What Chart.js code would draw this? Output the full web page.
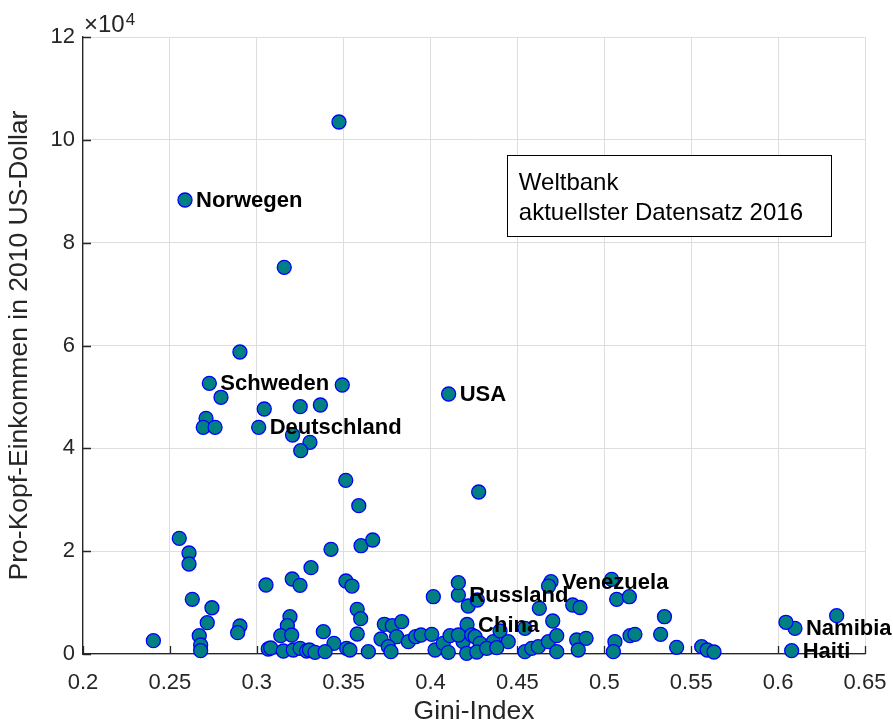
<!DOCTYPE html>
<html>
<head>
<meta charset="utf-8">
<script src="https://cdn.jsdelivr.net/npm/chart.js@4.4.1/dist/chart.umd.min.js"></script>
<style>
  html, body { margin: 0; padding: 0; background: #ffffff; }
  canvas { display: block; }
</style>
</head>
<body>
<canvas id="chart" width="893" height="728"></canvas>
<script>
// Gini index and GDP per capita (constant 2010 US$), World Bank, latest year 2016.
// The first nine entries are the countries that carry a name label.
const giniIndex = [
  0.2587, 0.2727, 0.3011, 0.4104, 0.4160, 0.4210, 0.4693, 0.6097, 0.6078,
  0.3473, 0.3158, 0.2903, 0.3492, 0.2794, 0.3043, 0.3250, 0.3366, 0.2708,
  0.2692, 0.2760, 0.3206, 0.3306, 0.3253, 0.3512, 0.3587, 0.4277,
  0.2554, 0.2610, 0.2610, 0.3427, 0.3600, 0.3667, 0.3312, 0.3053, 0.3204,
  0.3249, 0.3513, 0.3548, 0.4016, 0.4160, 0.4217, 0.4269, 0.4679, 0.4626,
  0.4818, 0.4860, 0.5042, 0.5071, 0.5144, 0.5346, 0.6045, 0.6337, 0.4703,
  0.2629, 0.2742, 0.2715, 0.2903, 0.2890, 0.2669, 0.2677, 0.2677, 0.2405,
  0.3191, 0.3176, 0.3138, 0.3201, 0.3383, 0.3444, 0.3066, 0.3080, 0.3153,
  0.3210, 0.3249, 0.3287, 0.3303, 0.3335, 0.3393, 0.3517, 0.3536, 0.3578,
  0.3598, 0.3578,
  0.3642, 0.3734, 0.3780, 0.3834, 0.3715, 0.3805, 0.3757, 0.3772, 0.3872,
  0.3914, 0.3945, 0.4007, 0.4026, 0.4073, 0.4112, 0.4102,
  0.4187, 0.4160, 0.4237, 0.4256, 0.4285, 0.4361, 0.4400, 0.4447, 0.4208,
  0.4266, 0.4323, 0.4381, 0.4543, 0.4543, 0.4582, 0.4620, 0.4678, 0.4726,
  0.4726,
  0.4841, 0.4895, 0.4850, 0.5061, 0.5052, 0.5148, 0.5176, 0.5324,
  0.5416, 0.5560, 0.5592, 0.5631
];

const incomeUSD = [
  88300, 52650, 44090, 50570, 11470, 5740, 14060, 5000, 640,
  103470, 75210, 58740, 52320, 49930, 47650, 48100, 48430, 45840,
  44090, 44090, 42590, 41170, 39540, 33780, 28840, 31510,
  22500, 19640, 17500, 20360, 21060, 22170, 16790, 13420, 14590,
  13360, 14200, 13220, 11140, 13870, 9340, 10500, 13220, 8890,
  9530, 9040, 14530, 10640, 11140, 7250, 6170, 7450, 6420,
  10640, 9000, 6090, 5450, 4140, 3560, 1750, 640, 2590,
  7250, 5500, 3560, 3700, 4340, 2080, 970, 1170, 580,
  780, 1110, 580, 780, 330, 450, 1110, 780, 8690,
  6870, 3890,
  450, 5780, 5500, 6280, 2920, 3360, 1420, 450, 2390,
  3360, 3700, 3830, 780, 2080, 3560, 330,
  2390, 3700, 3700, 3360, 2080, 2390, 4470, 2390, 140,
  390, 1110, 1230, 5000, 450, 1110, 1420, 2390, 3560,
  450,
  2720, 3050, 780, 2390, 450, 3560, 3830, 3830,
  1300, 1420, 780, 390
];

const countryNames = ['Norwegen', 'Schweden', 'Deutschland', 'USA', 'Russland', 'China', 'Venezuela', 'Namibia', 'Haiti'];
const countryIndex = [0, 1, 2, 3, 4, 5, 6, 7, 8];

const xTicks = [0.2, 0.25, 0.3, 0.35, 0.4, 0.45, 0.5, 0.55, 0.6, 0.65];
const yTicks = [0, 20000, 40000, 60000, 80000, 100000, 120000];
const yExponent = 4;

const noteLines = ['Weltbank', 'aktuellster Datensatz 2016'];

const FONT = "'Liberation Sans', Arial, Helvetica, sans-serif";
const AXIS_COLOR = '#262626';
const GRID_COLOR = '#dedede';
const TICK_LEN = 8;

// short inward tick marks along the left and bottom axes
const innerTicks = {
  id: 'innerTicks',
  beforeDatasetsDraw(chart) {
    const { ctx, chartArea: a, scales: { x, y } } = chart;
    ctx.save();
    ctx.strokeStyle = AXIS_COLOR;
    ctx.lineWidth = 1.3;
    ctx.beginPath();
    xTicks.forEach(v => {
      const px = Math.round(x.getPixelForValue(v)) + 0.5;
      ctx.moveTo(px, a.bottom);
      ctx.lineTo(px, a.bottom - TICK_LEN);
    });
    yTicks.forEach(v => {
      const py = Math.round(y.getPixelForValue(v)) + 0.5;
      ctx.moveTo(a.left, py);
      ctx.lineTo(a.left + TICK_LEN, py);
    });
    ctx.stroke();
    ctx.restore();
  }
};

// country names next to their markers, the exponent of the y axis and the note box
const annotations = {
  id: 'annotations',
  afterDatasetsDraw(chart) {
    const { ctx, chartArea: a, scales: { x, y } } = chart;
    ctx.save();

    ctx.fillStyle = '#000000';
    ctx.font = 'bold 22px ' + FONT;
    ctx.textAlign = 'left';
    ctx.textBaseline = 'middle';
    countryNames.forEach((name, k) => {
      const i = countryIndex[k];
      const px = x.getPixelForValue(giniIndex[i]);
      const py = y.getPixelForValue(incomeUSD[i]);
      ctx.fillText(name, px + 11, py + 1);
    });

    // ×10^4 above the y axis
    ctx.fillStyle = AXIS_COLOR;
    ctx.textBaseline = 'alphabetic';
    ctx.font = '24px ' + FONT;
    ctx.fillText('\u00d710', a.left + 1, a.top - 5);
    const w = ctx.measureText('\u00d710').width;
    ctx.font = '17px ' + FONT;
    ctx.fillText(String(yExponent), a.left + 2 + w, a.top - 12);

    // note box
    const bx = a.left + 0.542 * a.width;
    const bw = 0.4145 * a.width;
    const by = a.top + 0.191 * a.height;
    const bh = 0.1315 * a.height;
    ctx.fillStyle = '#ffffff';
    ctx.fillRect(bx, by, bw, bh);
    ctx.strokeStyle = '#000000';
    ctx.lineWidth = 1;
    ctx.strokeRect(Math.round(bx) + 0.5, Math.round(by) + 0.5, Math.round(bw), Math.round(bh));
    ctx.fillStyle = '#000000';
    ctx.font = '24px ' + FONT;
    noteLines.forEach((line, k) => {
      ctx.fillText(line, bx + 12, by + 35 + k * 30);
    });

    ctx.restore();
  }
};

const points = giniIndex.map((g, i) => ({ x: g, y: incomeUSD[i] }));

// keep the plot area fixed: no extra room reserved for overhanging tick labels
function fixPadding(s) {
  s.paddingLeft = 0;
  s.paddingRight = 0;
  s.paddingTop = 0;
  s.paddingBottom = 0;
}

new Chart(document.getElementById('chart').getContext('2d'), {
  type: 'scatter',
  data: {
    datasets: [{
      data: points,
      pointRadius: 7,
      pointHoverRadius: 7,
      backgroundColor: '#008080',
      borderColor: '#0000ff',
      borderWidth: 1.3,
      clip: false
    }]
  },
  options: {
    responsive: false,
    animation: false,
    devicePixelRatio: 1,
    events: [],
    layout: { padding: { left: 0, right: 28, top: 37, bottom: 0 } },
    plugins: { legend: { display: false }, tooltip: { enabled: false } },
    scales: {
      x: {
        type: 'linear',
        min: 0.2,
        max: 0.65,
        afterBuildTicks: s => { s.ticks = xTicks.map(v => ({ value: v })); },
        afterFit: s => { s.height = 74; fixPadding(s); },
        grid: { color: GRID_COLOR, lineWidth: 1, drawTicks: false },
        border: { color: AXIS_COLOR, width: 1.3 },
        ticks: {
          padding: 16,
          color: AXIS_COLOR,
          font: { family: FONT, size: 22 },
          maxRotation: 0,
          callback: v => String(v)
        },
        title: {
          display: true,
          text: 'Gini-Index',
          color: AXIS_COLOR,
          font: { family: FONT, size: 26.5 },
          padding: { top: 0, bottom: 0 }
        }
      },
      y: {
        type: 'linear',
        min: 0,
        max: 120000,
        afterBuildTicks: s => { s.ticks = yTicks.map(v => ({ value: v })); },
        afterFit: s => { s.width = 83; fixPadding(s); },
        grid: { color: GRID_COLOR, lineWidth: 1, drawTicks: false },
        border: { color: AXIS_COLOR, width: 1.3 },
        ticks: {
          padding: 8,
          color: AXIS_COLOR,
          font: { family: FONT, size: 22 },
          callback: v => String(v / Math.pow(10, yExponent))
        },
        title: {
          display: true,
          text: 'Pro-Kopf-Einkommen in 2010 US-Dollar',
          color: AXIS_COLOR,
          font: { family: FONT, size: 26.5 },
          padding: { top: 4, bottom: 0 }
        }
      }
    }
  },
  plugins: [innerTicks, annotations]
});
</script>
</body>
</html>
